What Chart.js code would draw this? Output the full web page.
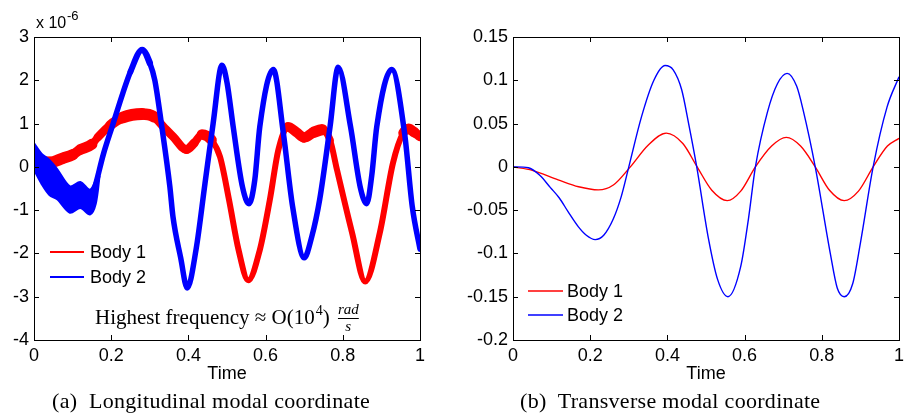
<!DOCTYPE html>
<html>
<head>
<meta charset="utf-8">
<script src="https://cdn.jsdelivr.net/npm/chart.js@4.4.0/dist/chart.umd.min.js"></script>
<style>
  body { margin: 0; background: #fff; width: 910px; height: 418px; position: relative; overflow: hidden; }
  .box { position: absolute; top: 0; width: 455px; height: 392px; }
  #boxA { left: 0; }
  #boxB { left: 455px; }
  .cap { position: absolute; top: 388px; font-family: "Liberation Serif", "Times New Roman", serif; font-size: 22px; letter-spacing: 0.3px; white-space: nowrap; color: #000; }
</style>
</head>
<body>
<div class="box" id="boxA"><canvas id="chartA"></canvas></div>
<div class="box" id="boxB"><canvas id="chartB"></canvas></div>
<div class="cap" style="left:52px">(a)&nbsp; Longitudinal modal coordinate</div>
<div class="cap" style="left:520px">(b)&nbsp; Transverse modal coordinate</div>
<script>
// (a) longitudinal modal coordinate, values in units of 1e-6
const longBody1Time = [0, 0.04, 0.075, 0.1, 0.12, 0.15, 0.165, 0.197, 0.23, 0.28, 0.31, 0.335, 0.36, 0.395, 0.415, 0.435, 0.46, 0.482, 0.505, 0.53, 0.555, 0.585, 0.611, 0.633, 0.658, 0.68, 0.7, 0.725, 0.746, 0.767, 0.785, 0.824, 0.858, 0.896, 0.93, 0.956, 0.97, 0.985, 1.0];
const longBody1 = [0.12, 0.1, 0.2, 0.28, 0.4, 0.52, 0.68, 0.96, 1.14, 1.22, 1.16, 0.93, 0.7, 0.4, 0.55, 0.75, 0.62, 0.23, -0.75, -1.92, -2.62, -1.92, -0.76, 0.39, 0.92, 0.8, 0.68, 0.8, 0.86, 0.62, -0.07, -1.52, -2.65, -1.52, 0.09, 0.78, 0.88, 0.8, 0.7];

const longBody2Time = [0, 0.025, 0.05, 0.075, 0.095, 0.12, 0.14, 0.155, 0.18, 0.205, 0.23, 0.25, 0.28, 0.3, 0.313, 0.33, 0.352, 0.36, 0.38, 0.397, 0.42, 0.443, 0.464, 0.487, 0.5, 0.516, 0.54, 0.557, 0.572, 0.585, 0.62, 0.646, 0.67, 0.7, 0.72, 0.74, 0.767, 0.788, 0.82, 0.845, 0.862, 0.875, 0.888, 0.927, 0.96, 0.98, 1.0];
const longBody2 = [0.25, -0.15, -0.35, -0.6, -0.8, -0.6, -0.85, -0.55, 0.3, 1.0, 1.7, 2.2, 2.7, 2.4, 2.0, 1.0, -0.46, -1.15, -2.1, -2.8, -1.9, -0.38, 1.0, 2.35, 1.95, 0.93, -0.46, -0.85, -0.3, 0.93, 2.25, 0.78, -0.92, -2.1, -1.6, -0.76, 0.93, 2.3, 0.93, -0.46, -0.85, -0.2, 0.93, 2.25, 0.78, -0.92, -1.9];

// spread of the noisy start of body 2
const longBody2BandTime = [0, 0.02, 0.04, 0.06, 0.093, 0.12, 0.145, 0.16, 0.17];
const longBody2Upper = [0.55, 0.3, 0.16, -0.05, -0.45, -0.35, -0.53, -0.3, 0.05];
const longBody2Lower = [-0.07, -0.4, -0.65, -0.75, -1.06, -0.95, -1.1, -0.85, -0.2];

// (b) transverse modal coordinate
const transBody1Time = [0, 0.05, 0.117, 0.17, 0.221, 0.26, 0.304, 0.35, 0.397, 0.44, 0.477, 0.515, 0.555, 0.59, 0.628, 0.67, 0.708, 0.745, 0.783, 0.82, 0.858, 0.895, 0.933, 0.97, 1.0];
const transBody1 = [0, -0.004, -0.015, -0.023, -0.0266, -0.021, 0, 0.025, 0.039, 0.027, 0, -0.027, -0.039, -0.028, 0, 0.024, 0.034, 0.024, 0, -0.027, -0.039, -0.028, 0, 0.024, 0.033];

const transBody2Time = [0, 0.04, 0.07, 0.097, 0.12, 0.143, 0.169, 0.19, 0.213, 0.235, 0.26, 0.28, 0.3, 0.333, 0.365, 0.394, 0.415, 0.437, 0.455, 0.476, 0.506, 0.53, 0.557, 0.59, 0.61, 0.628, 0.659, 0.685, 0.71, 0.735, 0.752, 0.783, 0.822, 0.84, 0.858, 0.88, 0.9, 0.933, 0.969, 1.0];
const transBody2 = [0, -0.001, -0.01, -0.024, -0.036, -0.052, -0.069, -0.079, -0.084, -0.079, -0.06, -0.035, 0, 0.058, 0.1, 0.117, 0.112, 0.089, 0.05, 0, -0.082, -0.13, -0.15, -0.115, -0.06, 0, 0.063, 0.096, 0.108, 0.093, 0.065, 0, -0.1, -0.14, -0.15, -0.135, -0.088, 0, 0.069, 0.104];

const seriesNames = ["Body 1", "Body 2"];
const xTicks = [0, 0.2, 0.4, 0.6, 0.8, 1];
const longTicks = [-4, -3, -2, -1, 0, 1, 2, 3];
const transTicks = [-0.2, -0.15, -0.1, -0.05, 0, 0.05, 0.1, 0.15];

const RED = "#ff0000";
const BLUE = "#0000ff";
const SANS = '"Liberation Sans", Arial, Helvetica, sans-serif';
const SERIF = '"Liberation Serif", "Times New Roman", serif';

function toPoints(xs, ys) {
    return xs.map((x, i) => ({ x: x, y: ys[i] }));
}

// a noisy trace looks like a band of fixed vertical height,
// so the stroke gets thinner where the curve is steep
function bandWidth(height, minWidth) {
    return c => {
        const dx = c.p1.x - c.p0.x;
        const dy = c.p1.y - c.p0.y;
        const len = Math.hypot(dx, dy) || 1;
        return Math.round(Math.max(minWidth, height * Math.abs(dx) / len) * 2) / 2;
    };
}

// matlab style box with inward ticks
const boxPlugin = {
    id: 'boxPlugin',
    afterDraw(chart) {
        const ctx = chart.ctx;
        const a = chart.chartArea;
        const xs = chart.scales.x;
        const ys = chart.scales.y;
        ctx.save();
        ctx.strokeStyle = '#000';
        ctx.lineWidth = 1;
        ctx.strokeRect(Math.round(a.left) + 0.5, Math.round(a.top) + 0.5, Math.round(a.right - a.left), Math.round(a.bottom - a.top));
        ctx.beginPath();
        xTicks.forEach(v => {
            const px = Math.round(xs.getPixelForValue(v)) + 0.5;
            ctx.moveTo(px, a.bottom); ctx.lineTo(px, a.bottom - 5);
            ctx.moveTo(px, a.top); ctx.lineTo(px, a.top + 5);
        });
        ys.ticks.forEach(t => {
            const py = Math.round(ys.getPixelForValue(t.value)) + 0.5;
            ctx.moveTo(a.left, py); ctx.lineTo(a.left + 5, py);
            ctx.moveTo(a.right, py); ctx.lineTo(a.right - 5, py);
        });
        ctx.stroke();

        const lg = chart.options.plugins.boxLegend;
        if (lg) {
            ctx.font = '18px ' + SANS;
            ctx.textBaseline = 'middle';
            ctx.textAlign = 'left';
            [RED, BLUE].forEach((col, i) => {
                const y = lg.y + i * lg.gap;
                ctx.strokeStyle = col;
                ctx.lineWidth = lg.lineWidth;
                ctx.beginPath();
                ctx.moveTo(lg.x0, y); ctx.lineTo(lg.x1, y);
                ctx.stroke();
                ctx.fillStyle = '#000';
                ctx.fillText(seriesNames[i], lg.tx, y + 1);
            });
        }
        ctx.restore();
    }
};

// exponent label and frequency note for chart (a)
const notePlugin = {
    id: 'notePlugin',
    afterDraw(chart) {
        const ctx = chart.ctx;
        ctx.save();
        ctx.fillStyle = '#000';
        ctx.textBaseline = 'alphabetic';
        ctx.textAlign = 'left';
        ctx.font = '16px ' + SANS;
        ctx.fillText('x 10', 36, 28);
        ctx.font = '13px ' + SANS;
        ctx.fillText('-6', 67, 20);

        let x = 95;
        const base = 324;
        ctx.font = '21px ' + SERIF;
        let s = 'Highest frequency \u2248 O(10';
        ctx.fillText(s, x, base);
        x += ctx.measureText(s).width;
        ctx.font = '14px ' + SERIF;
        ctx.fillText('4', x + 1, base - 9);
        x += ctx.measureText('4').width + 1;
        ctx.font = '21px ' + SERIF;
        ctx.fillText(')', x, base);
        x += ctx.measureText(') ').width + 3;
        ctx.font = 'italic 15px ' + SERIF;
        const wr = ctx.measureText('rad').width;
        ctx.fillText('rad', x, base - 10);
        ctx.fillRect(x, base - 6, wr, 1);
        ctx.fillText('s', x + wr / 2 - 3, base + 7);
        ctx.restore();
    }
};

function makeChart(id, cfg) {
    return new Chart(document.getElementById(id), {
        type: 'line',
        data: { datasets: cfg.datasets },
        options: {
            responsive: true,
            maintainAspectRatio: false,
            animation: false,
            layout: { padding: { top: 37, right: cfg.rightPad, left: 0, bottom: 0 } },
            elements: { point: { radius: 0 } },
            plugins: {
                legend: { display: false },
                tooltip: { enabled: false },
                boxLegend: cfg.legend
            },
            scales: {
                x: {
                    type: 'linear', min: 0, max: 1,
                    afterBuildTicks: s => { s.ticks = xTicks.map(v => ({ value: v })); },
                    afterFit: s => { s.height = 52; },
                    grid: { display: false, drawTicks: false },
                    border: { display: false },
                    ticks: { color: '#000', padding: 5, maxRotation: 0, font: { family: SANS, size: 18 }, callback: v => String(v) },
                    title: { display: true, text: 'Time', color: '#000', font: { family: SANS, size: 18 }, padding: { top: 0, bottom: 7 } }
                },
                y: {
                    type: 'linear', min: cfg.yTicks[0], max: cfg.yTicks[cfg.yTicks.length - 1],
                    afterBuildTicks: s => { s.ticks = cfg.yTicks.map(v => ({ value: v })); },
                    afterFit: s => { s.width = cfg.yWidth; },
                    grid: { display: false, drawTicks: false },
                    border: { display: false },
                    ticks: { color: '#000', padding: 5, font: { family: SANS, size: 18 }, callback: v => String(Number(v.toFixed(3))) }
                }
            }
        },
        plugins: cfg.plugins
    });
}

makeChart('chartA', {
    rightPad: 35,
    yWidth: 34,
    yTicks: longTicks,
    legend: { x0: 50, x1: 84, tx: 90, y: 252, gap: 25, lineWidth: 2 },
    plugins: [boxPlugin, notePlugin],
    datasets: [
        {
            label: seriesNames[0],
            data: toPoints(longBody1Time, longBody1),
            borderColor: RED,
            borderWidth: 7,
            order: 3,
            cubicInterpolationMode: 'monotone',
            borderJoinStyle: 'round',
            borderCapStyle: 'round',
            segment: { borderWidth: bandWidth(12, 6) }
        },
        {
            label: seriesNames[1],
            data: toPoints(longBody2Time, longBody2),
            borderColor: BLUE,
            borderWidth: 6,
            order: 0,
            cubicInterpolationMode: 'monotone',
            borderJoinStyle: 'round',
            borderCapStyle: 'round',
            segment: { borderWidth: bandWidth(13, 5.5) }
        },
        {
            label: 'band upper',
            data: toPoints(longBody2BandTime, longBody2Upper),
            borderColor: BLUE,
            backgroundColor: BLUE,
            borderWidth: 2,
            order: 1,
            tension: 0.3,
            fill: '+1'
        },
        {
            label: 'band lower',
            data: toPoints(longBody2BandTime, longBody2Lower),
            borderColor: BLUE,
            borderWidth: 2,
            order: 2,
            tension: 0.3,
            fill: false
        }
    ]
});

makeChart('chartB', {
    rightPad: 11,
    yWidth: 58,
    yTicks: transTicks,
    legend: { x0: 73, x1: 108, tx: 112, y: 291, gap: 24, lineWidth: 1.3 },
    plugins: [boxPlugin],
    datasets: [
        {
            label: seriesNames[0],
            data: toPoints(transBody1Time, transBody1),
            borderColor: RED,
            borderWidth: 1.4,
            order: 1,
            cubicInterpolationMode: 'monotone'
        },
        {
            label: seriesNames[1],
            data: toPoints(transBody2Time, transBody2),
            borderColor: BLUE,
            borderWidth: 1.4,
            order: 0,
            cubicInterpolationMode: 'monotone'
        }
    ]
});
</script>
</body>
</html>
